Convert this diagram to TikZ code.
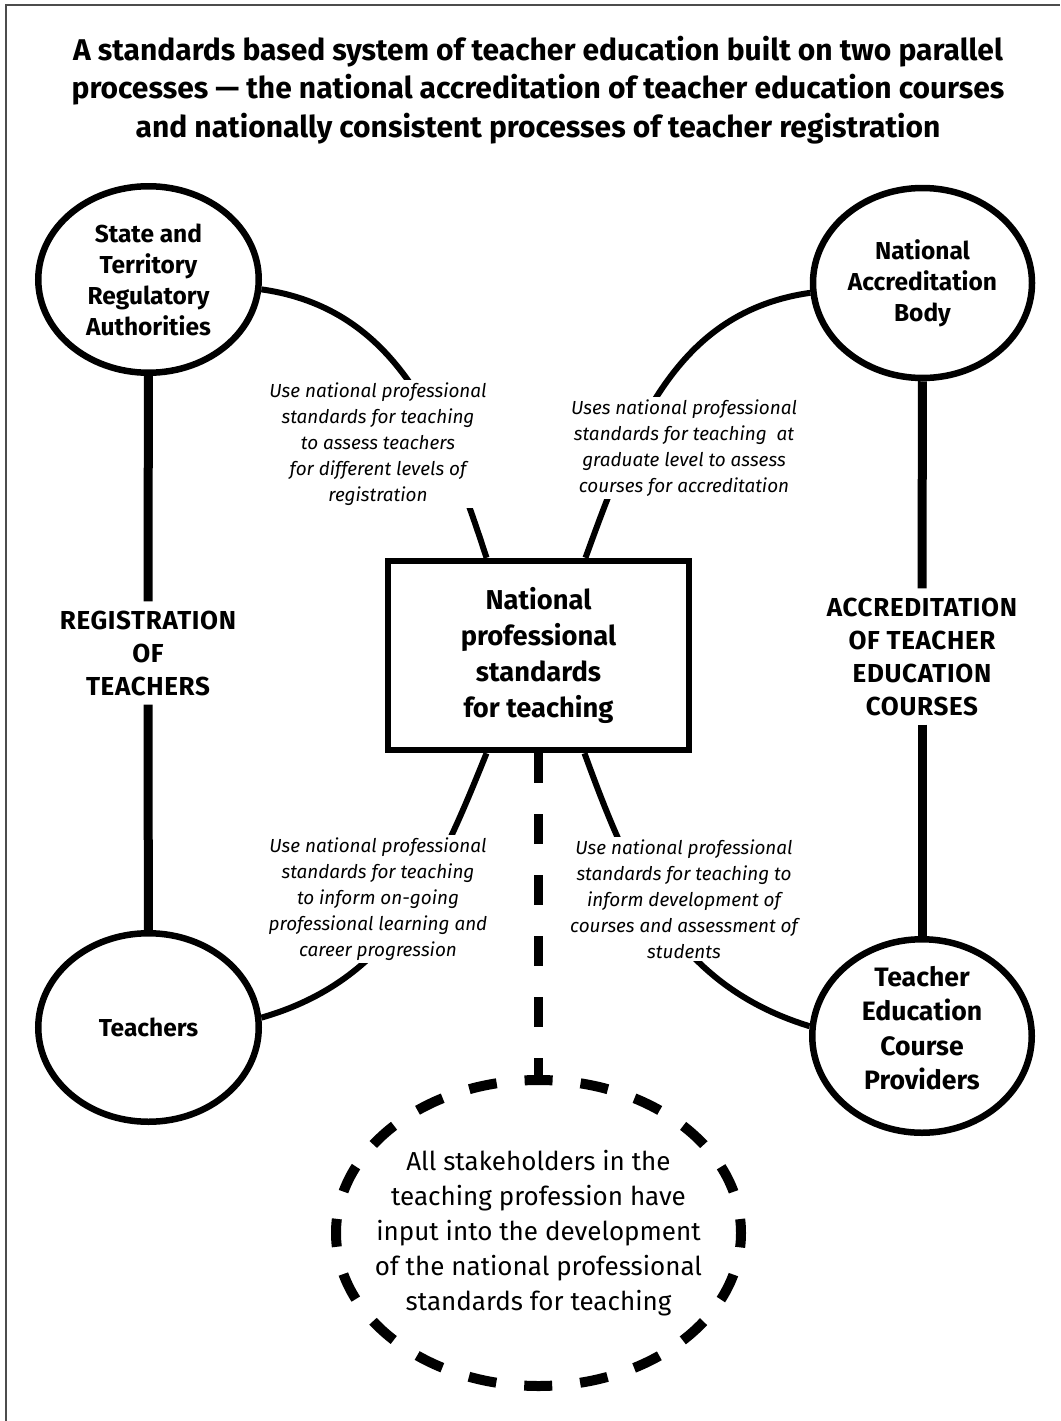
\documentclass[tikz,border=0pt]{standalone}
\usepackage{fontspec}
\setmainfont{Fira Sans}
\usetikzlibrary{shapes.geometric}

\begin{document}
\begin{tikzpicture}[
        x = 1pt, y = -1pt,
        body/.style = {
            draw, ellipse,
            line width = 6.5pt,
            inner sep = 0pt,
            align = center,
            minimum width = 220pt,
            minimum height = 188pt,
            font = \bfseries\fontsize{24.5}{31}\selectfont,
        },
        core/.style = {
            draw, rectangle,
            line width = 6.5pt,
            align = center,
            minimum width = 301pt,
            minimum height = 189pt,
            font = \bfseries\fontsize{27.3}{36}\selectfont,
        },
        process/.style = {
            align = center,
            inner sep = 9pt,
            font = \bfseries\fontsize{26}{33}\selectfont\addfontfeature{LetterSpace=2.5},
        },
        usage/.style = {
            align = center,
            fill = white,
            inner sep = 3pt,
            font = \itshape\fontsize{18.9}{26}\selectfont,
        },
        bond/.style = {line width = 6pt},
        track/.style = {line width = 9pt},
        input/.style = {line width = 10pt, dash pattern = on 28pt off 28.1pt, dash phase = 14pt},
        ]

        \useasboundingbox (0,0) rectangle (1060,1421);
        \draw[gray!60!black, line width = 2pt] (6,1421) -- (6,5) -- (1060,5);

        % Titel
        \node[align = center, font = \bfseries\fontsize{30}{38.5}\selectfont] (title) at (538,90)
            {A standards based system of teacher education built on two parallel\\
             processes --- the national accreditation of teacher education courses\\
             and nationally consistent processes of teacher registration};

        % Knopen
        \node[body, minimum width = 220.5pt, minimum height = 186.5pt] (sra) at (148.5,279.5) {State and\\Territory\\Regulatory\\Authorities};
        \node[body, minimum width = 219pt, minimum height = 190pt] (nab) at (922.5,283) {National\\Accreditation\\Body};
        \node[body, minimum width = 220.5pt, minimum height = 188.5pt] (tch) at (148.5,1027.5) {Teachers};
        \node[body, minimum width = 219.5pt, minimum height = 193.5pt,
              label = {[align = center, yshift = 8pt, font = \bfseries\fontsize{26.6}{34.5}\selectfont]center:{Teacher\\Education\\Course\\Providers}}]
              (tecp) at (922,1036) {};
        \node[core] (nps) at (538.5,655.5) {National\\professional\\standards\\for teaching};
        \node[process] (reg) at (148,653) {REGISTRATION\\OF\\TEACHERS};
        \node[process] (accr) at (922,656.5) {ACCREDITATION\\OF TEACHER\\EDUCATION\\COURSES};
        \node[draw, ellipse, input, align = center, inner sep = -45pt, minimum width = 405pt, minimum height = 306pt,
              font = \fontsize{26}{35}\selectfont] (stake) at (538.5,1233)
            {All stakeholders in the\\teaching profession have\\input into the development\\of the national professional\\standards for teaching};

        % Verbindingen
        \path
            [
            track
            ]
            (sra) edge (reg)
            (reg) edge (tch)
            (nab) edge (accr)
            (accr) edge (tecp);

        \path
            [
            bond
            ]
            (sra.-5) edge[out = -8, in = 108] ([xshift = -52pt]nps.north)
            (nab.185) edge[out = 188, in = 70] ([xshift = 47pt]nps.north)
            ([xshift = -52pt]nps.south) edge[out = 248, in = 16] (tch.5)
            ([xshift = 46pt]nps.south) edge[out = -70, in = 163] (tecp.175);

        \path (nps) edge[line width = 9pt, dash pattern = on 30pt off 31pt] (stake);

        % Toelichting
        \node[usage] (use_reg) at (378,444) {Use national professional\\standards for teaching\\to assess teachers\\for different levels of\\registration};
        \node[usage] (use_accr) at (684,448) {Uses national professional\\standards for teaching \ at\\graduate level to assess\\courses for accreditation};
        \node[usage] (use_tch) at (378,899) {Use national professional\\standards for teaching\\to inform on-going\\professional learning and\\career progression};
        \node[usage] (use_tecp) at (684,899) {Use national professional\\standards for teaching to\\inform development of\\courses and assessment of\\students};
\end{tikzpicture}
\end{document}
